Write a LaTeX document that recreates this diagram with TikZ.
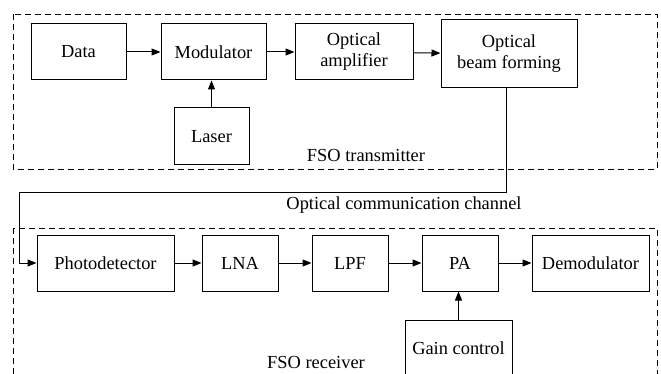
\documentclass[tikz,border=0pt]{standalone}
\usepackage{fontspec}
\setmainfont{Liberation Serif}
\usetikzlibrary{arrows.meta}

\begin{document}
\begin{tikzpicture}[x=1pt,y=-1pt,
  blk/.style={draw,line width=1pt,inner sep=0pt,minimum height=56pt,align=center,
    font=\fontsize{18.4}{21}\selectfont},
  lbl/.style={inner sep=0pt,font=\fontsize{18.4}{21}\selectfont},
  frame/.style={draw,line width=0.9pt,dash pattern=on 6pt off 4pt},
  link/.style={line width=1pt,-{Triangle[length=9pt,width=7pt]}}]
\useasboundingbox (0,0) rectangle (661,374);
% dashed frames
\draw[frame] (13,14) rectangle (657,169);
\draw[frame] (13,228) rectangle (657,400);
% transmitter
\node[blk,minimum width=95pt] (data) at (78.5,52) {Data};
\node[blk,minimum width=105pt] (mod) at (213.5,52) {Modulator};
\node[blk,minimum width=118pt] (amp) at (354,52) {Optical\\amplifier};
\node[blk,minimum width=136pt,minimum height=68pt] (beam) at (509,54) {Optical\\beam forming};
\node[blk,minimum width=75pt,minimum height=57pt] (laser) at (211.5,136.5) {Laser};
\node[lbl] (tx) at (366,155) {FSO transmitter};
% receiver
\node[blk,minimum width=137pt] (pd) at (105.5,263) {Photodetector};
\node[blk,minimum width=76pt] (lna) at (240,263) {LNA};
\node[blk,minimum width=76pt] (lpf) at (350,263) {LPF};
\node[blk,minimum width=76pt] (pa) at (460,263) {PA};
\node[blk,minimum width=117pt] (demod) at (590.5,263) {Demodulator};
\node[blk,minimum width=107pt,minimum height=57pt] (gain) at (458.5,348.5) {Gain control};
\node[lbl] (rx) at (316,362) {FSO receiver};
% channel
\node[lbl] (chan) at (404,205) {Optical communication channel};
\coordinate (bend) at (19,193);
% connectors
\draw[link] (data) -- (mod);
\draw[link] (mod) -- (amp);
\draw[link] (amp) -- (beam);
\draw[link] (laser) -- (laser |- mod.south);
\draw[link] ([xshift=-3pt]beam.south) |- (bend) |- (pd.west);
\draw[link] (pd) -- (lna);
\draw[link] (lna) -- (lpf);
\draw[link] (lpf) -- (pa);
\draw[link] (pa) -- (demod);
\draw[link] (gain) -- (gain |- pa.south);
\end{tikzpicture}
\end{document}
